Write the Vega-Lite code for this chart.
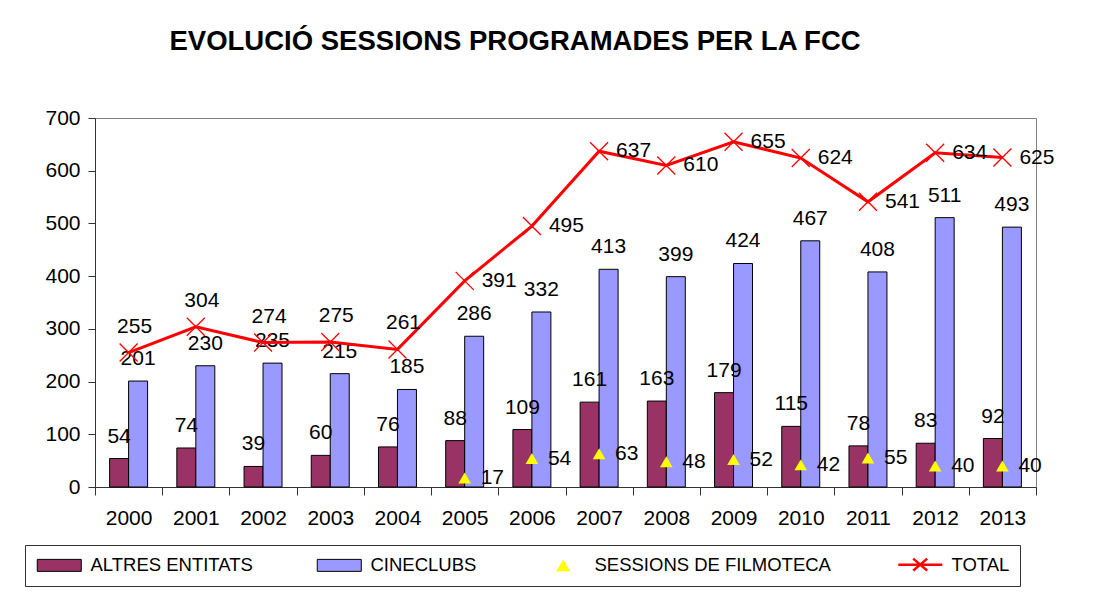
{
  "$schema": "https://vega.github.io/schema/vega-lite/v6.json",
  "width": 941,
  "height": 369,
  "autosize": {"type": "none"},
  "padding": {"left": 95, "top": 118, "right": 73, "bottom": 113},
  "background": "white",
  "title": {
    "text": "EVOLUCIÓ SESSIONS PROGRAMADES PER LA FCC",
    "font": "Liberation Sans",
    "fontSize": 27.5,
    "fontWeight": "bold",
    "anchor": "start",
    "dx": 145,
    "offset": 30,
    "baseline": "alphabetic",
    "color": "black"
  },
  "config": {
    "font": "Liberation Sans",
    "view": {"stroke": "#808080", "strokeWidth": 1},
    "axis": {
      "labelFont": "Liberation Sans",
      "labelFontSize": 21,
      "labelColor": "black",
      "domainColor": "#333333",
      "tickColor": "#333333",
      "grid": false,
      "title": null
    }
  },
  "data": {
    "values": [
      {"year": 2000, "series": "ALTRES ENTITATS", "value": 54},
      {"year": 2001, "series": "ALTRES ENTITATS", "value": 74},
      {"year": 2002, "series": "ALTRES ENTITATS", "value": 39},
      {"year": 2003, "series": "ALTRES ENTITATS", "value": 60},
      {"year": 2004, "series": "ALTRES ENTITATS", "value": 76},
      {"year": 2005, "series": "ALTRES ENTITATS", "value": 88},
      {"year": 2006, "series": "ALTRES ENTITATS", "value": 109},
      {"year": 2007, "series": "ALTRES ENTITATS", "value": 161},
      {"year": 2008, "series": "ALTRES ENTITATS", "value": 163},
      {"year": 2009, "series": "ALTRES ENTITATS", "value": 179},
      {"year": 2010, "series": "ALTRES ENTITATS", "value": 115},
      {"year": 2011, "series": "ALTRES ENTITATS", "value": 78},
      {"year": 2012, "series": "ALTRES ENTITATS", "value": 83},
      {"year": 2013, "series": "ALTRES ENTITATS", "value": 92},
      {"year": 2000, "series": "CINECLUBS", "value": 201},
      {"year": 2001, "series": "CINECLUBS", "value": 230},
      {"year": 2002, "series": "CINECLUBS", "value": 235},
      {"year": 2003, "series": "CINECLUBS", "value": 215},
      {"year": 2004, "series": "CINECLUBS", "value": 185},
      {"year": 2005, "series": "CINECLUBS", "value": 286},
      {"year": 2006, "series": "CINECLUBS", "value": 332},
      {"year": 2007, "series": "CINECLUBS", "value": 413},
      {"year": 2008, "series": "CINECLUBS", "value": 399},
      {"year": 2009, "series": "CINECLUBS", "value": 424},
      {"year": 2010, "series": "CINECLUBS", "value": 467},
      {"year": 2011, "series": "CINECLUBS", "value": 408},
      {"year": 2012, "series": "CINECLUBS", "value": 511},
      {"year": 2013, "series": "CINECLUBS", "value": 493},
      {"year": 2005, "series": "SESSIONS DE FILMOTECA", "value": 17},
      {"year": 2006, "series": "SESSIONS DE FILMOTECA", "value": 54},
      {"year": 2007, "series": "SESSIONS DE FILMOTECA", "value": 63},
      {"year": 2008, "series": "SESSIONS DE FILMOTECA", "value": 48},
      {"year": 2009, "series": "SESSIONS DE FILMOTECA", "value": 52},
      {"year": 2010, "series": "SESSIONS DE FILMOTECA", "value": 42},
      {"year": 2011, "series": "SESSIONS DE FILMOTECA", "value": 55},
      {"year": 2012, "series": "SESSIONS DE FILMOTECA", "value": 40},
      {"year": 2013, "series": "SESSIONS DE FILMOTECA", "value": 40},
      {"year": 2000, "series": "TOTAL", "value": 255},
      {"year": 2001, "series": "TOTAL", "value": 304},
      {"year": 2002, "series": "TOTAL", "value": 274},
      {"year": 2003, "series": "TOTAL", "value": 275},
      {"year": 2004, "series": "TOTAL", "value": 261},
      {"year": 2005, "series": "TOTAL", "value": 391},
      {"year": 2006, "series": "TOTAL", "value": 495},
      {"year": 2007, "series": "TOTAL", "value": 637},
      {"year": 2008, "series": "TOTAL", "value": 610},
      {"year": 2009, "series": "TOTAL", "value": 655},
      {"year": 2010, "series": "TOTAL", "value": 624},
      {"year": 2011, "series": "TOTAL", "value": 541},
      {"year": 2012, "series": "TOTAL", "value": 634},
      {"year": 2013, "series": "TOTAL", "value": 625}
    ]
  },
  "encoding": {
    "x": {
      "field": "year",
      "type": "ordinal",
      "scale": {"paddingInner": 0, "paddingOuter": 0},
      "axis": {"labelAngle": 0, "tickBand": "extent", "tickSize": 8, "labelPadding": 12, "domainColor": "#333333"}
    },
    "y": {
      "field": "value",
      "type": "quantitative",
      "scale": {"domain": [0, 700], "nice": false},
      "axis": {"values": [0, 100, 200, 300, 400, 500, 600, 700], "tickSize": 7, "labelPadding": 8}
    }
  },
  "layer": [
    {
      "transform": [{"filter": "datum.series === 'ALTRES ENTITATS' || datum.series === 'CINECLUBS'"}],
      "mark": {"type": "bar", "stroke": "black", "strokeWidth": 1},
      "encoding": {
        "xOffset": {"field": "series", "type": "nominal", "scale": {"domain": ["ALTRES ENTITATS", "CINECLUBS"], "paddingInner": 0, "paddingOuter": 0.77}},
        "color": {
          "field": "series",
          "type": "nominal",
          "scale": {"domain": ["ALTRES ENTITATS", "CINECLUBS"], "range": ["#993366", "#9999FF"]},
          "legend": null
        }
      }
    },
    {
      "transform": [{"filter": "datum.series === 'ALTRES ENTITATS' || datum.series === 'CINECLUBS'"}],
      "mark": {"type": "text", "baseline": "alphabetic", "dy": -16, "fontSize": 21, "color": "black", "font": "Liberation Sans"},
      "encoding": {
        "xOffset": {"field": "series", "type": "nominal"},
        "text": {"field": "value", "type": "quantitative"}
      }
    },
    {
      "transform": [{"filter": "datum.series === 'TOTAL'"}],
      "mark": {"type": "line", "color": "#FF0000", "strokeWidth": 3},
      "encoding": {}
    },
    {
      "transform": [{"filter": "datum.series === 'TOTAL'"}],
      "mark": {"type": "point", "shape": "M-1,-1L1,1M-1,1L1,-1", "filled": false, "stroke": "#FF0000", "strokeWidth": 1.3, "size": 324, "opacity": 1},
      "encoding": {}
    },
    {
      "transform": [{"filter": "datum.series === 'TOTAL' && datum.year >= 2005"}],
      "mark": {"type": "text", "align": "left", "baseline": "middle", "dx": 17, "fontSize": 21, "color": "black", "font": "Liberation Sans"},
      "encoding": {"text": {"field": "value", "type": "quantitative"}}
    },
    {
      "transform": [{"filter": "datum.series === 'TOTAL' && datum.year <= 2004"}],
      "mark": {"type": "text", "align": "center", "baseline": "middle", "dx": 6, "dy": -26, "fontSize": 21, "color": "black", "font": "Liberation Sans"},
      "encoding": {"text": {"field": "value", "type": "quantitative"}}
    },
    {
      "transform": [{"filter": "datum.series === 'SESSIONS DE FILMOTECA'"}],
      "mark": {"type": "point", "shape": "triangle-up", "filled": true, "fill": "#FFFF00", "strokeWidth": 0, "size": 160, "opacity": 1},
      "encoding": {}
    },
    {
      "transform": [{"filter": "datum.series === 'SESSIONS DE FILMOTECA'"}],
      "mark": {"type": "text", "align": "left", "baseline": "middle", "dx": 16, "fontSize": 21, "color": "black", "font": "Liberation Sans"},
      "encoding": {"text": {"field": "value", "type": "quantitative"}}
    },
    {
      "transform": [{"filter": "datum.series === 'NONE'"}],
      "mark": {"type": "point", "filled": true, "opacity": 1},
      "encoding": {
        "fill": {
          "field": "series",
          "type": "nominal",
          "scale": {
            "domain": ["ALTRES ENTITATS", "CINECLUBS", "SESSIONS DE FILMOTECA", "TOTAL"],
            "range": ["#993366", "#9999FF", "#FFFF00", "transparent"]
          },
          "legend": {
            "title": null,
            "orient": "none",
            "direction": "horizontal",
            "columns": 4,
            "legendX": -70,
            "legendY": 427,
            "strokeColor": "#333333",
            "fillColor": "white",
            "padding": 10,
            "columnPadding": 62,
            "labelFont": "Liberation Sans",
            "labelFontSize": 18.5,
            "labelColor": "black",
            "labelOffset": 37,
            "labelLimit": 400,
            "symbolSize": 196,
            "symbolFillColor": "transparent",
            "symbolOpacity": 1
          }
        },
        "stroke": {
          "field": "series",
          "type": "nominal",
          "scale": {
            "domain": ["ALTRES ENTITATS", "CINECLUBS", "SESSIONS DE FILMOTECA", "TOTAL"],
            "range": ["#000000", "#000000", "transparent", "#FF0000"]
          },
          "legend": {"title": null, "symbolFillColor": "transparent", "symbolOpacity": 1}
        },
        "shape": {
          "field": "series",
          "type": "nominal",
          "scale": {
            "domain": ["ALTRES ENTITATS", "CINECLUBS", "SESSIONS DE FILMOTECA", "TOTAL"],
            "range": [
              "M-1,-0.857H5.29V0.857H-1Z",
              "M-1,-0.857H5.29V0.857H-1Z",
              "M2.14,-0.857L3.14,0.857L1.14,0.857Z",
              "M-1,0H5.29M1.14,-0.857L3.14,0.857M1.14,0.857L3.14,-0.857"
            ]
          },
          "legend": {"title": null, "symbolFillColor": "transparent", "symbolOpacity": 1}
        },
        "strokeWidth": {
          "field": "series",
          "type": "nominal",
          "scale": {
            "type": "ordinal",
            "domain": ["ALTRES ENTITATS", "CINECLUBS", "SESSIONS DE FILMOTECA", "TOTAL"],
            "range": [1, 1, 0, 2.5]
          },
          "legend": {"title": null, "symbolFillColor": "transparent", "symbolOpacity": 1}
        }
      }
    }
  ]
}
